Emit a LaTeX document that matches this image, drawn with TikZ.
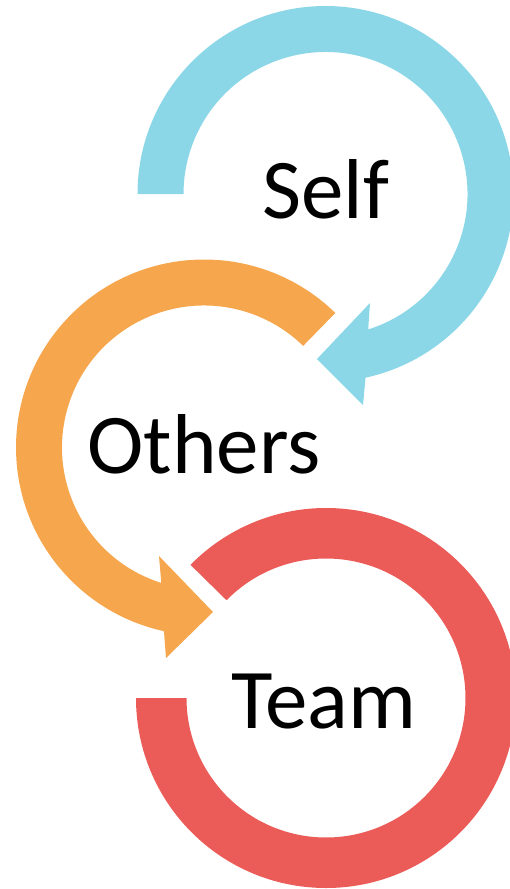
\documentclass[tikz,border=0pt]{standalone}
\usepackage{fontspec}
\setmainfont{Carlito}
\usetikzlibrary{calc}
\definecolor{cblue}{RGB}{139,215,231}
\definecolor{corange}{RGB}{246,166,77}
\definecolor{cred}{RGB}{235,91,87}
\begin{document}
\begin{tikzpicture}[x=1pt,y=-1pt,
  lbl/.style={anchor=base,inner sep=0pt,font=\fontsize{85}{100}\selectfont,text=black}]
\useasboundingbox (0,0) rectangle (509,889);
% centres
\coordinate (cb) at (325.5,194);
\coordinate (co) at (204,447.5);
\coordinate (cr) at (326,698);
% blue arrow (Self)
\coordinate (b1) at (363,405);
\coordinate (bt) at (317,359);
\coordinate (b2) at (370,303);
\fill[cblue] ($(cb)+(180:188)$) arc[start angle=180,end angle=437.7,radius=188]
  -- (b1) -- (bt) -- (b2) -- ($(cb)+(432.5:142)$)
  arc[start angle=432.5,end angle=180,radius=142] -- cycle;
% orange arrow (Others)
\coordinate (o1) at (166,658);
\coordinate (ot) at (213,612);
\coordinate (o2) at (159,556);
\fill[corange] ($(co)+(314.3:188)$) arc[start angle=314.3,end angle=102.3,radius=188]
  -- (o1) -- (ot) -- (o2) -- ($(co)+(107.5:142)$)
  arc[start angle=107.5,end angle=314.3,radius=142] -- cycle;
% red ring (Team)
\fill[cred] ($(cr)+(180:190)$) arc[start angle=180,end angle=-135.5,radius=190]
  -- ($(cr)+(-135.5:139.5)$) arc[start angle=-135.5,end angle=180,radius=139.5] -- cycle;
% labels
\node[lbl] (self) at (326,218) {Self};
\node[lbl] (others) at (204,473) {Others};
\node[lbl] (team) at (324,728) {Team};
\end{tikzpicture}
\end{document}
